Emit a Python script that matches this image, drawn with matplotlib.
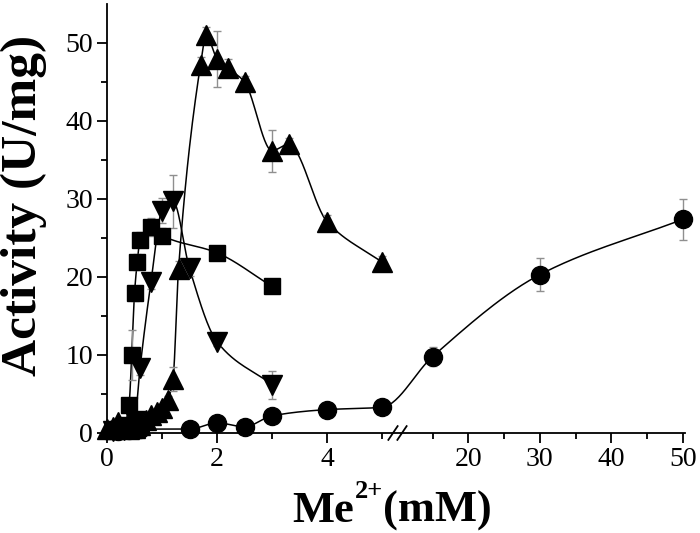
import numpy as np
import matplotlib
matplotlib.use("Agg")
import matplotlib.pyplot as plt
from matplotlib.ticker import FixedLocator, NullFormatter

# ---- data ----
# circles
x_circ = [0.2, 0.4, 0.6, 1.5, 2.0, 2.5, 3.0, 4.0, 5.0, 15, 30, 50]
y_circ = [0.3, 0.4, 0.5, 0.5, 1.3, 0.8, 2.2, 3.0, 3.3, 9.8, 20.3, 27.4]
e_circ = [0.2, 0.2, 0.2, 0.3, 0.3, 0.3, 0.4, 0.4, 0.5, 1.2, 2.1, 2.6]

# squares
x_sq = [0.1, 0.2, 0.3, 0.4, 0.45, 0.5, 0.55, 0.6, 0.8, 1.0, 2.0, 3.0]
y_sq = [0.3, 0.5, 0.8, 3.6, 10.0, 17.9, 21.9, 24.8, 26.4, 25.3, 23.1, 18.8]
e_sq = [0.2, 0.2, 0.3, 0.6, 3.2, 1.0, 1.0, 1.0, 1.2, 1.0, 0.8, 0.6]

# down triangles
x_dn = [0.1, 0.3, 0.4, 0.5, 0.6, 0.8, 1.0, 1.2, 1.5, 2.0, 3.0]
y_dn = [0.2, 0.4, 0.8, 1.5, 8.3, 19.4, 28.5, 29.7, 21.1, 11.7, 6.2]
e_dn = [0.2, 0.2, 0.3, 0.4, 0.8, 1.0, 1.6, 3.4, 1.0, 0.6, 1.8]

# up triangles
x_up = [0.0, 0.1, 0.2, 0.3, 0.4, 0.5, 0.6, 0.7, 0.8, 0.9, 1.0, 1.1, 1.2, 1.3,
        1.7, 1.8, 2.0, 2.2, 2.5, 3.0, 3.3, 4.0, 5.0]
y_up = [0.5, 0.8, 1.4, 0.6, 0.5, 0.6, 1.0, 1.7, 2.3, 2.7, 3.2, 4.2, 6.9, 21.0,
        47.2, 51.0, 48.0, 46.8, 45.0, 36.2, 37.0, 27.1, 21.9]
e_up = [0.2, 0.2, 0.3, 0.2, 0.2, 0.2, 0.3, 0.3, 0.4, 0.4, 0.5, 0.6, 1.5, 1.0,
        1.0, 1.0, 3.6, 1.2, 0.8, 2.7, 0.8, 0.8, 0.8]

x_major = [0, 2, 4, 20, 30, 40, 50]
x_minor = [1, 3, 5, 15, 25, 35, 45]

# ---- broken x axis: 0..5.25 linear, then 10..50 compressed ----
BRK_LO, BRK_HI = 5.25, 10.0
GAP = 0.02
SLOPE = 0.13


def fwd(x):
    x = np.asarray(x, float)
    return np.where(x <= BRK_LO, x,
                    np.where(x >= BRK_HI, BRK_LO + GAP + (x - BRK_HI) * SLOPE,
                             BRK_LO + (x - BRK_LO) / (BRK_HI - BRK_LO) * GAP))


def inv(u):
    u = np.asarray(u, float)
    return np.where(u <= BRK_LO, u,
                    np.where(u >= BRK_LO + GAP, BRK_HI + (u - BRK_LO - GAP) / SLOPE,
                             BRK_LO + (u - BRK_LO) / GAP * (BRK_HI - BRK_LO)))


def smooth(xs, ys, n=30):
    # monotone cubic (pchip) through the points, done in scaled x
    u = fwd(xs)
    y = np.asarray(ys, float)
    h = np.diff(u)
    d = np.diff(y) / h
    m = np.zeros_like(y)
    for k in range(1, len(y) - 1):
        if d[k - 1] * d[k] > 0:
            w1 = 2 * h[k] + h[k - 1]
            w2 = h[k] + 2 * h[k - 1]
            m[k] = (w1 + w2) / (w1 / d[k - 1] + w2 / d[k])
    m[0], m[-1] = d[0], d[-1]
    cu, cy = [], []
    t = np.linspace(0, 1, n, endpoint=False)
    for k in range(len(h)):
        h00 = 2 * t ** 3 - 3 * t ** 2 + 1
        h10 = t ** 3 - 2 * t ** 2 + t
        h01 = -2 * t ** 3 + 3 * t ** 2
        h11 = t ** 3 - t ** 2
        cu.extend(u[k] + t * h[k])
        cy.extend(h00 * y[k] + h10 * h[k] * m[k] + h01 * y[k + 1] + h11 * h[k] * m[k + 1])
    cu.append(u[-1])
    cy.append(y[-1])
    return inv(np.array(cu)), np.array(cy)


plt.rcParams['font.family'] = 'Liberation Serif'

XMAX = 50.3
fig = plt.figure(figsize=(7.0, 5.33), dpi=100)
ax_w = 55 * float(fwd(XMAX)) / 700
ax = fig.add_axes([107 / 700, 100 / 533, ax_w, 429 / 533])
ax.set_xscale('function', functions=(fwd, inv))
ax.set_xlim(0, XMAX)
ax.set_ylim(0, 55)

series = [
    (x_circ, y_circ, e_circ, 'o', 13),
    (x_sq, y_sq, e_sq, 's', 11.5),
    (x_dn, y_dn, e_dn, 'v', 14),
    (x_up, y_up, e_up, '^', 14),
]

for xs, ys, es, mk, ms in series:
    sx, sy = smooth(xs, ys)
    ax.plot(sx, sy, color='black', lw=1.1, zorder=2, clip_on=False)
    ax.errorbar(xs, ys, yerr=es, fmt='none', ecolor='#8f8f8f', elinewidth=1.0,
                capsize=3, capthick=1.0, zorder=3, clip_on=False)
    ax.plot(xs, ys, linestyle='none', marker=mk, markersize=ms,
            color='black', zorder=4, clip_on=False)

for s in ('top', 'right'):
    ax.spines[s].set_visible(False)
for s in ('left', 'bottom'):
    ax.spines[s].set_linewidth(1.3)

ax.xaxis.set_major_locator(FixedLocator(x_major))
ax.xaxis.set_minor_locator(FixedLocator(x_minor))
ax.set_xticklabels([str(v) for v in x_major])
ax.xaxis.set_minor_formatter(NullFormatter())
ax.set_yticks(np.arange(0, 51, 10))
ax.set_yticks(np.arange(5, 55, 10), minor=True)
ax.tick_params(which='major', direction='out', length=7, width=1.3,
               labelsize=20, pad=3)
ax.tick_params(which='minor', direction='out', length=4, width=1.3)

# break marks on the x axis
umax = float(fwd(XMAX))
for px in (393, 402):
    fx = (px - 107) / 55 / umax
    ax.plot([fx - 0.008, fx + 0.008], [-0.016, 0.016], transform=ax.transAxes,
            color='black', lw=1.3, clip_on=False, zorder=5)

fig.text(24 / 700, 1 - 205 / 533, 'Activity (U/mg)', rotation=90,
         ha='center', va='center', fontsize=37, fontweight='bold')

# x label built from pieces so the superscript sits tight
renderer = fig.canvas.get_renderer()
base_y = 1 - 522 / 533
x0 = 292 / 700
t1 = fig.text(x0, base_y, 'Me', ha='left', va='baseline',
              fontsize=32, fontweight='bold')
w1 = t1.get_window_extent(renderer).width / 700
t2 = fig.text(x0 + w1 + 1 / 700, 1 - 498 / 533, '2+', ha='left',
              va='baseline', fontsize=19, fontweight='bold')
w2 = t2.get_window_extent(renderer).width / 700
fig.text(x0 + w1 + w2 + 1 / 700, base_y, '(mM)', ha='left', va='baseline',
         fontsize=32, fontweight='bold')

fig.savefig('out.png', dpi=100)
